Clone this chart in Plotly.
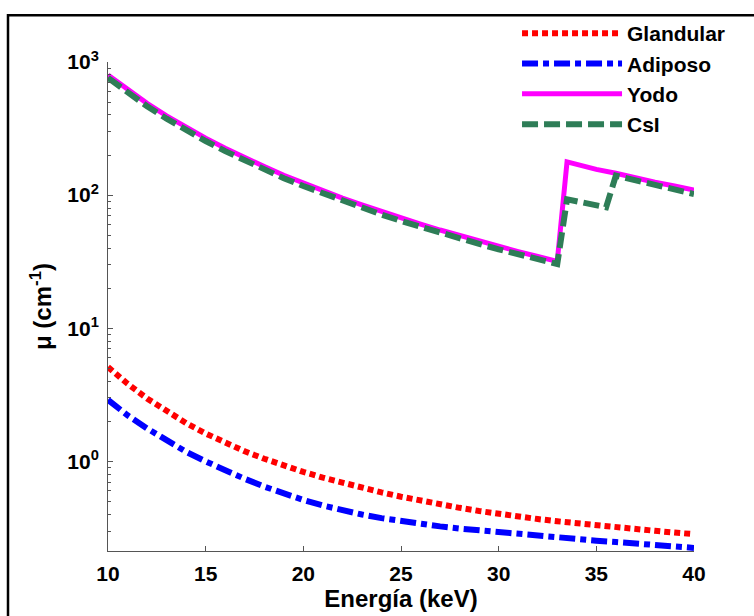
import plotly.graph_objects as go

# ---- data ----
energy_tissue = [10, 11, 12, 13, 14, 15, 16, 17, 18, 19, 20, 21, 22, 23, 24, 25,
                 26, 27, 28, 29, 30, 31, 32, 33, 34, 35, 36, 37, 38, 39, 40]
glandular = [5.11, 3.83, 2.97, 2.37, 1.94, 1.62, 1.38, 1.19, 1.047, 0.929, 0.834,
             0.755, 0.689, 0.632, 0.585, 0.543, 0.507, 0.475, 0.448, 0.424, 0.402,
             0.385, 0.369, 0.355, 0.342, 0.330, 0.320, 0.310, 0.301, 0.292, 0.284]
adiposo = [2.90, 2.22, 1.77, 1.43, 1.18, 1.00, 0.855, 0.740, 0.647, 0.573, 0.513,
           0.466, 0.429, 0.399, 0.375, 0.355, 0.339, 0.325, 0.313, 0.303, 0.293,
           0.284, 0.276, 0.269, 0.261, 0.254, 0.248, 0.242, 0.236, 0.230, 0.224]

energy_yodo = [10, 11, 12, 13, 14, 15, 16, 17, 18, 19, 20, 21, 22, 23, 24, 25,
               26, 27, 28, 29, 30, 31, 32, 33, 33.5, 34, 35, 36, 37, 38, 39, 40]
yodo = [800, 618, 489, 394, 322, 268, 225, 191, 164, 141, 123, 108, 95, 84.4,
        75.2, 67.4, 60.6, 54.7, 49.6, 45.1, 41.2, 37.7, 34.6, 31.8, 178, 170,
        156, 146, 134, 125, 117, 109]

energy_csi = [10, 11, 12, 13, 14, 15, 16, 17, 18, 19, 20, 21, 22, 23, 24, 25,
              26, 27, 28, 29, 30, 31, 32, 33, 33.5, 34, 35, 35.5, 36, 37, 38, 39, 40]
csi = [760, 588, 465, 375, 306, 255, 214, 182, 156, 134, 117, 103, 90.5, 80.3,
       71.5, 64, 57.6, 52, 47.2, 43, 39.2, 35.9, 33, 30.4, 93, 90, 85, 81,
       140, 129, 119, 110, 102]

x_ticks = [10, 15, 20, 25, 30, 35, 40]
x_ticktext = ["<b>%d</b>" % v for v in x_ticks]
y_ticks = [1, 10, 100, 1000]
y_ticktext = ["<b>10<sup>0</sup></b>", "<b>10<sup>1</sup></b>",
              "<b>10<sup>2</sup></b>", "<b>10<sup>3</sup></b>"]
y_minor = [m * d for d in [0.1, 1, 10, 100] for m in range(2, 10)]

FONT = "Liberation Sans, Arial, sans-serif"

fig = go.Figure()
fig.add_trace(go.Scatter(x=energy_tissue, y=glandular, mode="lines", name="<b>Glandular</b>",
                         line=dict(color="#ff0000", width=6, dash="6px,4px")))
fig.add_trace(go.Scatter(x=energy_tissue, y=adiposo, mode="lines", name="<b>Adiposo</b>",
                         line=dict(color="#0000ff", width=6, dash="16px,5px,6px,5px")))
fig.add_trace(go.Scatter(x=energy_yodo, y=yodo, mode="lines", name="<b>Yodo</b>",
                         line=dict(color="#ff00ff", width=5)))
fig.add_trace(go.Scatter(x=energy_csi, y=csi, mode="lines", name="<b>CsI</b>",
                         line=dict(color="#2e7d57", width=6, dash="16px,6px")))

axis_col = "#555555"
fig.update_xaxes(range=[10, 40], tickmode="array", tickvals=x_ticks, ticktext=x_ticktext,
                 ticks="inside", ticklen=5, ticklabelstandoff=4,
                 tickcolor=axis_col, showline=True, linecolor=axis_col, linewidth=1,
                 showgrid=False, zeroline=False,
                 tickfont=dict(family=FONT, size=21, color="black"),
                 title=dict(text="<b>Energía (keV)</b>", font=dict(family=FONT, size=24, color="black"),
                            standoff=2))
fig.update_yaxes(type="log", range=[-0.673, 3], tickmode="array", tickvals=y_ticks,
                 ticktext=y_ticktext, ticks="inside", ticklen=5, tickcolor=axis_col,
                 showline=True, linecolor=axis_col, linewidth=1, showgrid=False, zeroline=False,
                 ticklabelstandoff=4,
                 minor=dict(tickmode="array", tickvals=y_minor, ticks="inside", ticklen=3,
                            tickcolor=axis_col, showgrid=False),
                 tickfont=dict(family=FONT, size=21, color="black"),
                 title=dict(text="<b>μ (cm<sup>-1</sup>)</b>", font=dict(family=FONT, size=24, color="black"),
                            standoff=8))

fig.update_layout(
    width=754, height=616,
    margin=dict(l=108, r=60, t=62, b=63),
    paper_bgcolor="white", plot_bgcolor="white",
    showlegend=True,
    legend=dict(x=0.698, y=1.1, xanchor="left", yanchor="top", bgcolor="rgba(0,0,0,0)",
                font=dict(family=FONT, size=21, color="black"), itemwidth=100,
                tracegroupgap=0),
    shapes=[dict(type="rect", xref="paper", yref="paper",
                 x0=(8 - 108) / 586, x1=(820 - 108) / 586,
                 y0=(553 - 680) / 491, y1=(553 - 15) / 491,
                 line=dict(color="black", width=2.5), fillcolor="rgba(0,0,0,0)")],
)

fig.write_html("out.html")
